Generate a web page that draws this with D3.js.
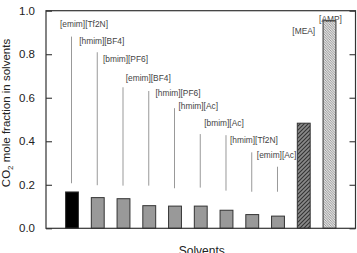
<!DOCTYPE html>
<html>
<head>
<meta charset="utf-8">
<script src="https://cdn.jsdelivr.net/npm/d3@7"></script>
<style>
  html, body { margin: 0; padding: 0; background: #fff; }
  svg { display: block; font-family: "Liberation Sans", Arial, sans-serif; }
</style>
</head>
<body>
<svg id="chart" width="357" height="253"></svg>
<script>
// ---- data ----
const solvents = ["[emim][Tf2N]", "[hmim][BF4]", "[bmim][PF6]", "[emim][BF4]", "[hmim][PF6]",
                  "[hmim][Ac]", "[bmim][Ac]", "[hmim][Tf2N]", "[emim][Ac]", "[MEA]", "[AMP]"];
const co2Fraction = [0.167, 0.141, 0.136, 0.104, 0.102, 0.102, 0.083, 0.063, 0.056, 0.483, 0.954];
const solventKind = ["best", "il", "il", "il", "il", "il", "il", "il", "il", "mea", "amp"];
// leader annotations (in data units)
const labelLevel = [0.924, 0.847, 0.766, 0.679, 0.610, 0.546, 0.468, 0.394, 0.321, 0.893, 0.948];
const leaderTop  = [0.881, 0.809, 0.648, 0.631, 0.552, 0.433, 0.428, 0.349, 0.283, null, null];
const leaderBottom = [0.207, 0.198, 0.196, 0.196, 0.184, 0.187, 0.173, 0.168, 0.168, null, null];
const yTicks = [0.0, 0.2, 0.4, 0.6, 0.8, 1.0];

// ---- layout ----
const svg = d3.select("#chart");
const L = 46, R = 355.5, T = 10.7, B = 228.3;
const labelNudge = [12, 4, 2, -1, 3, -2.5, -2.5, 1.7, -1.4, 0, 1];

const x = d3.scaleBand().domain(solvents).range([L, R]).paddingInner(0.5).paddingOuter(0.76);
const y = d3.scaleLinear().domain([0, 1]).range([B, T]);

const defs = svg.append("defs");
const pMEA = defs.append("pattern").attr("id", "hatchMEA").attr("patternUnits", "userSpaceOnUse")
  .attr("width", 4).attr("height", 4);
pMEA.append("rect").attr("width", 4).attr("height", 4).attr("fill", "#8a8a8a");
pMEA.append("path").attr("d", "M-1,1 l2,-2 M0,4 l4,-4 M3,5 l2,-2")
  .attr("stroke", "#333").attr("stroke-width", 1.1);
const pAMP = defs.append("pattern").attr("id", "hatchAMP").attr("patternUnits", "userSpaceOnUse")
  .attr("width", 2.5).attr("height", 2.5);
pAMP.append("rect").attr("width", 2.5).attr("height", 2.5).attr("fill", "#e2e2e2");
pAMP.append("path").attr("d", "M-1,-1 l4.5,4.5 M-1,1.5 l2,2 M1.5,-1 l2,2")
  .attr("stroke", "#7a7a7a").attr("stroke-width", 0.7);

const fills = { best: "#000", il: "#999", mea: "url(#hatchMEA)", amp: "url(#hatchAMP)" };

// bars
svg.append("g").selectAll("rect").data(solvents).join("rect")
  .attr("x", d => x(d))
  .attr("width", x.bandwidth())
  .attr("y", (d, i) => y(co2Fraction[i]))
  .attr("height", (d, i) => y(0) - y(co2Fraction[i]))
  .attr("fill", (d, i) => fills[solventKind[i]])
  .attr("stroke", "#333").attr("stroke-width", 1);

// leader lines
svg.append("g").selectAll("line").data(solvents.filter((d, i) => leaderTop[i] != null)).join("line")
  .attr("x1", d => x(d) + x.bandwidth() / 2 - 0.5)
  .attr("x2", d => x(d) + x.bandwidth() / 2 - 0.5)
  .attr("y1", (d, i) => y(leaderTop[i]))
  .attr("y2", (d, i) => y(leaderBottom[i]))
  .attr("stroke", "#999").attr("stroke-width", 1);

// labels
svg.append("g").selectAll("text").data(solvents).join("text")
  .attr("x", (d, i) => x(d) + x.bandwidth() / 2 + labelNudge[i])
  .attr("y", (d, i) => y(labelLevel[i]))
  .attr("text-anchor", "middle")
  .attr("font-size", 8.4)
  .attr("fill", "#444")
  .text(d => d);

// frame
svg.append("rect").attr("x", L).attr("y", T).attr("width", R - L).attr("height", B - T)
  .attr("fill", "none").attr("stroke", "#333").attr("stroke-width", 1.2);

// left axis (ticks inward)
const yAxisL = d3.axisLeft(y).tickValues(yTicks).tickSize(-6).tickPadding(11).tickFormat(d3.format(".1f"));
const gL = svg.append("g").attr("transform", `translate(${L},0)`).call(yAxisL);
gL.select(".domain").remove();
gL.selectAll(".tick line").attr("stroke", "#333").attr("stroke-width", 1.1);
gL.selectAll(".tick text").attr("font-size", 11.5).attr("fill", "#222")
  .attr("font-family", "'Liberation Sans', Arial, sans-serif");

// right axis (ticks inward)
const yAxisR = d3.axisRight(y).tickValues(yTicks).tickSize(-6).tickFormat("");
const gR = svg.append("g").attr("transform", `translate(${R},0)`).call(yAxisR);
gR.select(".domain").remove();
gR.selectAll(".tick line").attr("stroke", "#333").attr("stroke-width", 1.1);

// y title
const yt = svg.append("text")
  .attr("transform", "translate(10,113) rotate(-90)")
  .attr("text-anchor", "middle")
  .attr("font-size", 11.5)
  .attr("fill", "#222");
yt.append("tspan").text("CO");
yt.append("tspan").attr("font-size", 8).attr("dy", 3).text("2");
yt.append("tspan").attr("dy", -3).text(" mole fraction in solvents");

// x title
svg.append("text").attr("x", (L + R) / 2 + 1).attr("y", 254.5)
  .attr("text-anchor", "middle").attr("font-size", 12).attr("fill", "#222")
  .text("Solvents");
</script>
</body>
</html>
